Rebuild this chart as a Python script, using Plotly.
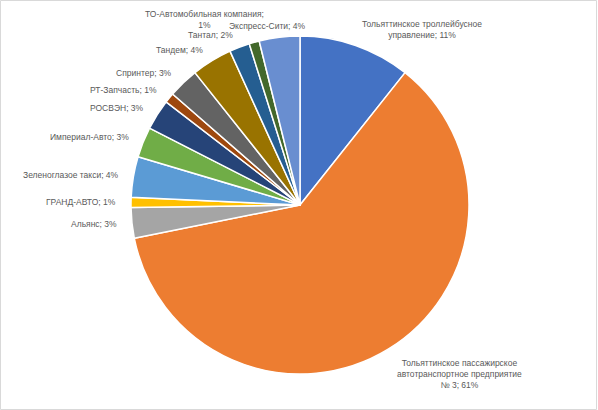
import math
import plotly.graph_objects as go

labels = [
    "Тольяттинское троллейбусное управление",
    "Тольяттинское пассажирское автотранспортное предприятие № 3",
    "Альянс",
    "ГРАНД-АВТО",
    "Зеленоглазое такси",
    "Империал-Авто",
    "РОСВЭН",
    "РТ-Запчасть",
    "Спринтер",
    "Тандем",
    "Тантал",
    "ТО-Автомобильная компания",
    "Экспресс-Сити",
]
values = [11, 63, 3, 1, 4, 3, 3, 1, 3, 4, 2, 1, 4]
colors = ["#4472C4", "#ED7D31", "#A5A5A5", "#FFC000", "#5B9BD5", "#70AD47",
          "#264478", "#9E480E", "#636363", "#997300", "#255E91", "#43682B", "#698ED0"]

W, H = 598, 410
CX, CY, RAD = 300, 205, 169
RLAB = 182

wraps = {
    "Тольяттинское троллейбусное управление": "Тольяттинское троллейбусное<br>управление",
    "Тольяттинское пассажирское автотранспортное предприятие № 3":
        "Тольяттинское пассажирское<br>автотранспортное предприятие<br>№ 3",
    "ТО-Автомобильная компания": "ТО-Автомобильная компания;<br>",
}
# manual nudges (pixels) for crowded labels near the top
nudges = {
    "ТО-Автомобильная компания": (-46, -10, "center", "middle"),
    "Экспресс-Сити": (-10, 2, "center", "middle"),
}

fig = go.Figure(go.Pie(
    labels=labels, values=values, sort=False, direction="clockwise", rotation=0,
    marker=dict(colors=colors, line=dict(color="white", width=1.5)),
    textinfo="none", hoverinfo="skip", showlegend=False,
    domain=dict(x=[(CX - RAD) / W, (CX + RAD) / W], y=[(H - CY - RAD) / H, (H - CY + RAD) / H]),
))

total = sum(values)
cum = 0
annotations = []
for name, v in zip(labels, values):
    mid = (cum + v / 2) / total * 360
    cum += v
    th = math.radians(mid)
    s, c = math.sin(th), math.cos(th)
    x = CX + RLAB * s
    y = CY - RLAB * c
    xa = "right" if s < -0.15 else ("left" if s > 0.15 else "center")
    ya = "top" if c < -0.7 else "middle"
    pct = round(v / total * 100)
    disp = wraps.get(name, name)
    if disp.endswith("<br>"):
        text = f"{disp}{pct}%"
    else:
        text = f"{disp}; {pct}%"
    if name in nudges:
        dx, dy, xa, ya = nudges[name]
        x += dx
        y += dy
    elif "<br>" in disp:
        y -= 4
    annotations.append(dict(
        x=x / W, y=1 - y / H, xref="paper", yref="paper", text=text, showarrow=False,
        xanchor=xa, yanchor=ya, align="center",
        font=dict(family="Liberation Sans Narrow, Liberation Sans, Arial", size=8.5, color="#595959"),
    ))

fig.update_layout(
    width=W, height=H, margin=dict(l=0, r=0, t=0, b=0),
    paper_bgcolor="white", plot_bgcolor="white",
    annotations=annotations,
    shapes=[dict(type="rect", xref="paper", yref="paper", x0=0.5 / W, x1=596.5 / W,
                 y0=1 - 409.5 / H, y1=1 - 0.5 / H, line=dict(color="#D9D9D9", width=1))],
)
fig.write_html("out.html")
